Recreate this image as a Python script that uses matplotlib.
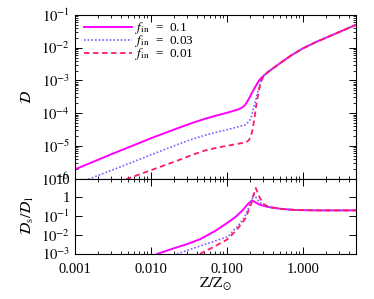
import numpy as np
import matplotlib
matplotlib.use("Agg")
import matplotlib.pyplot as plt
from matplotlib.ticker import LogLocator, FixedLocator, FixedFormatter, NullFormatter

plt.rcParams['font.family'] = 'serif'
plt.rcParams['font.serif'] = ['Liberation Serif', 'DejaVu Serif']
plt.rcParams['mathtext.fontset'] = 'stix'

# Z/Zsun values and D for each f_in (top panel)
z_01 = [0.001, 0.003, 0.01, 0.0236, 0.035, 0.0515, 0.075, 0.1, 0.14, 0.16, 0.172, 0.185, 0.2, 0.215, 0.232, 0.25, 0.265,
        0.284, 0.33, 0.4, 0.5, 0.7, 1.0, 1.5, 2.0, 3.0, 5.0]
d_01 = [1.9e-6, 5.5e-6, 1.7e-5, 3.6e-5, 5.0e-5, 6.7e-5, 8.6e-5, 1.02e-4, 1.29e-4, 1.5e-4, 1.74e-4, 2.25e-4, 3.1e-4, 4.3e-4, 5.9e-4, 8.0e-4, 1.0e-3,
        1.2e-3, 1.65e-3, 2.3e-3, 3.35e-3, 5.8e-3, 9.5e-3, 1.5e-2, 2.0e-2, 3.0e-2, 5.0e-2]

z_003 = [0.0015, 0.005, 0.01, 0.0236, 0.035, 0.0515, 0.075, 0.1, 0.14, 0.172, 0.19, 0.2, 0.21, 0.22, 0.232, 0.245, 0.258, 0.27, 0.285, 0.3,
         0.33, 0.4, 0.5, 0.7, 1.0, 1.5, 2.0, 3.0, 5.0]
d_003 = [9.5e-7, 2.8e-6, 5.3e-6, 1.15e-5, 1.6e-5, 2.1e-5, 2.65e-5, 3.1e-5, 3.8e-5, 4.3e-5, 5.2e-5, 6.0e-5, 8.0e-5, 1.23e-4, 1.9e-4, 3.1e-4, 5.0e-4, 7.9e-4, 1.12e-3, 1.33e-3,
         1.65e-3, 2.3e-3, 3.35e-3, 5.8e-3, 9.5e-3, 1.5e-2, 2.0e-2, 3.0e-2, 5.0e-2]

z_001 = [0.0047, 0.0236, 0.035, 0.0515, 0.075, 0.1, 0.14, 0.181, 0.195, 0.205, 0.213, 0.22, 0.232, 0.245, 0.258, 0.27, 0.28, 0.29, 0.31,
         0.33, 0.4, 0.5, 0.7, 1.0, 1.5, 2.0, 3.0, 5.0]
d_001 = [9.5e-7, 3.7e-6, 5.3e-6, 7.2e-6, 8.8e-6, 1.0e-5, 1.15e-5, 1.3e-5, 1.5e-5, 1.9e-5, 2.6e-5, 3.7e-5, 8.0e-5, 1.95e-4, 3.8e-4, 6.3e-4, 8.8e-4, 1.1e-3, 1.42e-3,
         1.65e-3, 2.3e-3, 3.35e-3, 5.8e-3, 9.5e-3, 1.5e-2, 2.0e-2, 3.0e-2, 5.0e-2]

# ratio D_s / D_l (bottom panel)
zr_01 = [0.012, 0.02, 0.03, 0.045, 0.07, 0.1, 0.13, 0.16, 0.19, 0.214, 0.24, 0.27, 0.34, 0.52, 0.77, 1.5, 5.0]
r_01 = [9.5e-4, 1.9e-3, 3.2e-3, 6.0e-3, 1.6e-2, 4.2e-2, 9.0e-2, 0.2, 0.45, 0.68, 0.52, 0.4, 0.31, 0.24, 0.21, 0.2, 0.2]

zr_003 = [0.022, 0.038, 0.06, 0.104, 0.12, 0.14, 0.163, 0.18, 0.2, 0.215, 0.227, 0.24, 0.256, 0.28, 0.3, 0.35, 0.5, 0.8, 1.5, 5.0]
r_003 = [9.5e-4, 2.05e-3, 3.8e-3, 8.1e-3, 1.6e-2, 3.0e-2, 6.5e-2, 0.14, 0.4, 0.85, 1.35, 1.0, 0.7, 0.48, 0.38, 0.3, 0.24, 0.21, 0.2, 0.2]

zr_001 = [0.044, 0.07, 0.1, 0.134, 0.16, 0.181, 0.19, 0.21, 0.22, 0.24, 0.255, 0.27, 0.31, 0.38, 0.5, 0.8, 1.5, 5.0]
r_001 = [9.5e-4, 2.5e-3, 5.5e-3, 1.8e-2, 4.5e-2, 9.0e-2, 0.18, 0.47, 1.1, 3.1, 1.6, 0.95, 0.4, 0.29, 0.24, 0.21, 0.2, 0.2]

labels = [r'$f_{\rm in}$  =  0.1', r'$f_{\rm in}$  =  0.03', r'$f_{\rm in}$  =  0.01']
c_solid = '#ff00ff'
c_dot = '#7f5fff'
c_dash = '#ff1a66'

fig = plt.figure(figsize=(3.74, 2.99), dpi=100)
ax1 = fig.add_axes([0.2005, 0.403, 0.7515, 0.547])
ax2 = fig.add_axes([0.2005, 0.152, 0.7515, 0.251])

ax1.plot(z_01, d_01, color=c_solid, lw=1.4, label=labels[0])
ax1.plot(z_003, d_003, color=c_dot, lw=1.2, linestyle=(0, (1, 1.2)), label=labels[1])
ax1.plot(z_001, d_001, color=c_dash, lw=1.3, linestyle=(0, (3, 2)), label=labels[2])

ax2.plot(zr_01, r_01, color=c_solid, lw=1.4)
ax2.plot(zr_003, r_003, color=c_dot, lw=1.2, linestyle=(0, (1, 1.2)))
ax2.plot(zr_001, r_001, color=c_dash, lw=1.3, linestyle=(0, (3, 2)))

for ax in (ax1, ax2):
    ax.set_xscale('log')
    ax.set_yscale('log')
    ax.set_xlim(0.001, 5.0)
    ax.xaxis.set_major_locator(FixedLocator([0.001, 0.01, 0.1, 1.0]))
    ax.xaxis.set_minor_locator(LogLocator(base=10, subs=np.arange(2, 10)))
    ax.xaxis.set_minor_formatter(NullFormatter())
    ax.tick_params(which='both', direction='in', top=True, right=True, labelsize=10.5)
    ax.tick_params(which='major', length=5, width=0.7)
    ax.tick_params(which='minor', length=2.5, width=0.6)

ax1.set_ylim(1e-6, 1e-1)
ax1.yaxis.set_major_locator(FixedLocator([1e-6, 1e-5, 1e-4, 1e-3, 1e-2, 1e-1]))
ax1.yaxis.set_major_formatter(FixedFormatter([r'$10^{-6}$', r'$10^{-5}$', r'$10^{-4}$',
                                              r'$10^{-3}$', r'$10^{-2}$', r'$10^{-1}$']))
ax1.yaxis.set_minor_locator(LogLocator(base=10, subs=np.arange(2, 10)))
ax1.yaxis.set_minor_formatter(NullFormatter())
ax1.xaxis.set_major_formatter(NullFormatter())
ax1.set_ylabel(r'$\mathcal{D}$', fontsize=11)
ax1.yaxis.set_label_coords(-0.145, 0.5)

ax2.set_ylim(1e-3, 10)
ax2.yaxis.set_major_locator(FixedLocator([1e-3, 1e-2, 1e-1, 1, 10]))
ax2.yaxis.set_major_formatter(FixedFormatter([r'$10^{-3}$', r'$10^{-2}$', r'$10^{-1}$', '1', '10']))
ax2.yaxis.set_minor_locator(FixedLocator([]))
ax2.xaxis.set_major_formatter(FixedFormatter(['0.001', '0.010', '0.100', '1.000']))
ax2.tick_params(axis='x', which='major', pad=7)
ax2.set_ylabel(r'$\mathcal{D}_{\rm s}/\mathcal{D}_{\rm l}$', fontsize=11)
ax2.yaxis.set_label_coords(-0.14, 0.5)
ax2.set_xlabel(r'$\mathrm{Z/Z}_{\odot}$', fontsize=11, labelpad=0)

ax1.legend(loc='upper left', bbox_to_anchor=(0.015, 1.0), frameon=False, fontsize=9.5,
           handlelength=3.6, handletextpad=0.2, labelspacing=-0.22, borderaxespad=0.0)

fig.savefig('out.png', dpi=100)
